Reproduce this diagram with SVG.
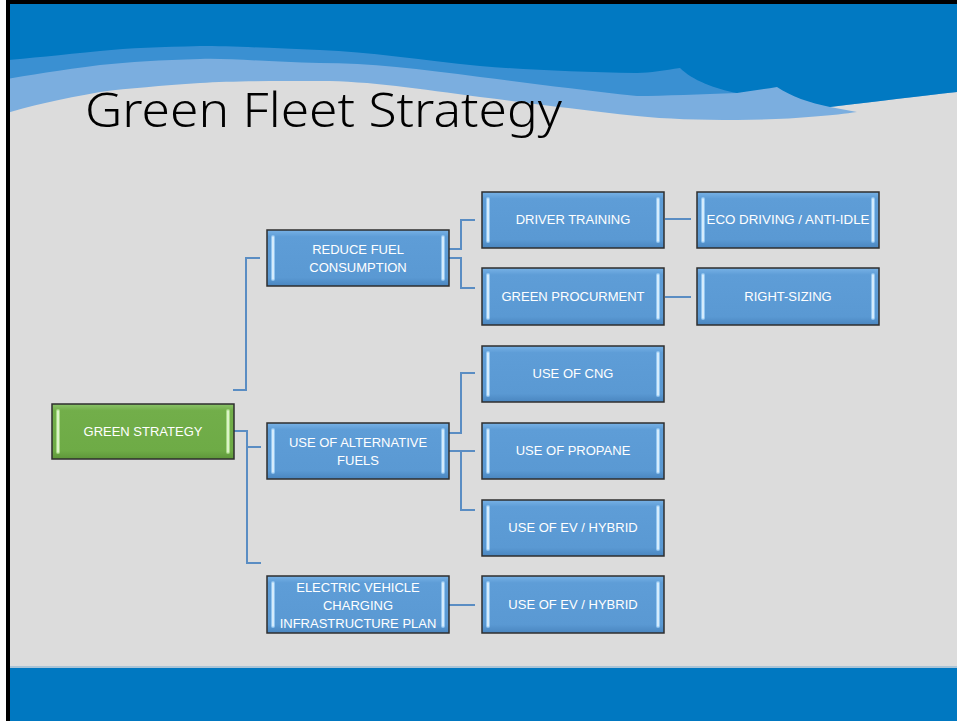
<svg xmlns="http://www.w3.org/2000/svg" width="957" height="721" viewBox="0 0 957 721">
<defs>
<linearGradient id="gBlue" x1="0" y1="0" x2="0" y2="1">
<stop offset="0" stop-color="#78B2E6"/>
<stop offset="0.12" stop-color="#5E9DD7"/>
<stop offset="0.85" stop-color="#5A99D3"/>
<stop offset="1" stop-color="#4A86C0"/>
</linearGradient>
<linearGradient id="gGreen" x1="0" y1="0" x2="0" y2="1">
<stop offset="0" stop-color="#8CC46A"/>
<stop offset="0.12" stop-color="#72AE4A"/>
<stop offset="0.85" stop-color="#6EAB46"/>
<stop offset="1" stop-color="#5E963A"/>
</linearGradient>
</defs>
<style>
.box{stroke:#2E2E2E;stroke-width:1.5}
.blue .box{fill:url(#gBlue)}
.green .box{fill:url(#gGreen)}
.hl1{stroke-width:4;stroke-linecap:round}
.hl2{stroke-width:1.6;stroke-linecap:round}
.blue .hl1{stroke:#93C6F0}
.blue .hl2{stroke:#E6F5FF}
.green .hl1{stroke:#A6D884}
.green .hl2{stroke:#E9FAD8}
.lbl{font-family:"Liberation Sans",Arial,sans-serif;font-size:13px;fill:#FFFFFF;text-anchor:middle}
.conn{fill:none;stroke:#5A8DC3;stroke-width:2}
</style>
<rect x="0" y="0" width="957" height="721" fill="#FFFFFF"/>
<rect x="10" y="0" width="947" height="721" fill="#DCDCDC"/>
<g id="header">
<path fill="#7BAEDF" d="M0,0 H957 V92 C920,96 880,101 830,107 L857,112 C830,116 780,120 737,120 C700,120 665,119 637,116 C580,110 530,103 480,97 C420,89 370,81 320,81 C270,81 230,81 200,83 C160,86 130,88 100,92 C60,99 30,106 0,115 Z"/>
<path fill="#3A90D2" d="M0,0 H737 V93 C700,94 665,96 637,96 C580,90 530,83 480,77 C420,69 370,63 320,63 C270,62 230,58 200,59 C160,60 130,62 100,65 C60,70 30,75 0,80 Z"/>
<path fill="#0179C2" d="M0,0 H957 V92 C920,96 880,101 830,107 C810,103 790,96 777,87 C765,89 750,91 737,93 C715,89 692,80 680,68 C665,70 650,73 637,73 C580,72 530,70 480,66 C420,60 370,52 320,50 C270,48 230,46 200,46 C160,47 130,48 100,51 C60,55 30,58 0,61 Z"/>
</g>
<rect x="10" y="666" width="947" height="2" fill="#A9C3D6"/>
<rect x="10" y="668" width="947" height="53" fill="#0078C1"/>
<rect x="0" y="0" width="6" height="721" fill="#FFFFFF"/>
<rect x="6" y="0" width="4" height="721" fill="#000000"/>
<rect x="6" y="0" width="951" height="4" fill="#000000"/>
<text x="85" y="127" font-family="'Noto Sans','Liberation Sans',sans-serif" font-weight="300" font-size="48" fill="#000000" textLength="477" lengthAdjust="spacingAndGlyphs">Green Fleet Strategy</text>
<g id="connectors">
<polyline class="conn" points="233,390 246,390 246,258 260,258"/>
<polyline class="conn" points="234,431 247,431 247,447 261,447"/>
<polyline class="conn" points="247,447 247,563 261,563"/>
<polyline class="conn" points="449,249 461,249 461,220 475,220"/>
<polyline class="conn" points="449,258 461,258 461,288 475,288"/>
<line class="conn" x1="665" y1="219" x2="691" y2="219"/>
<line class="conn" x1="665" y1="297" x2="691" y2="297"/>
<polyline class="conn" points="449,433 461,433 461,373 475,373"/>
<line class="conn" x1="449" y1="451" x2="475" y2="451"/>
<polyline class="conn" points="461,451 461,510 475,510"/>
<line class="conn" x1="449" y1="605" x2="475" y2="605"/>
</g>
<g id="n-green" class="node green">
<rect class="box" x="52" y="404" width="182" height="55"/>
<line class="hl1" x1="58" y1="411" x2="58" y2="452"/><line class="hl2" x1="58" y1="411" x2="58" y2="452"/>
<line class="hl1" x1="228" y1="411" x2="228" y2="452"/><line class="hl2" x1="228" y1="411" x2="228" y2="452"/>
<text class="lbl" x="143" y="436">GREEN STRATEGY</text>
</g>
<g id="n-reduce" class="node blue">
<rect class="box" x="267" y="230" width="182" height="56"/>
<line class="hl1" x1="273" y1="237" x2="273" y2="279"/><line class="hl2" x1="273" y1="237" x2="273" y2="279"/>
<line class="hl1" x1="443" y1="237" x2="443" y2="279"/><line class="hl2" x1="443" y1="237" x2="443" y2="279"/>
<text class="lbl" x="358" y="254">REDUCE FUEL</text>
<text class="lbl" x="358" y="272">CONSUMPTION</text>
</g>
<g id="n-alt" class="node blue">
<rect class="box" x="267" y="423" width="182" height="56"/>
<line class="hl1" x1="273" y1="430" x2="273" y2="472"/><line class="hl2" x1="273" y1="430" x2="273" y2="472"/>
<line class="hl1" x1="443" y1="430" x2="443" y2="472"/><line class="hl2" x1="443" y1="430" x2="443" y2="472"/>
<text class="lbl" x="358" y="447">USE OF ALTERNATIVE</text>
<text class="lbl" x="358" y="465">FUELS</text>
</g>
<g id="n-evplan" class="node blue">
<rect class="box" x="267" y="576" width="182" height="57"/>
<line class="hl1" x1="273" y1="583" x2="273" y2="626"/><line class="hl2" x1="273" y1="583" x2="273" y2="626"/>
<line class="hl1" x1="443" y1="583" x2="443" y2="626"/><line class="hl2" x1="443" y1="583" x2="443" y2="626"/>
<text class="lbl" x="358" y="592">ELECTRIC VEHICLE</text>
<text class="lbl" x="358" y="610">CHARGING</text>
<text class="lbl" x="358" y="628">INFRASTRUCTURE PLAN</text>
</g>
<g id="n-driver" class="node blue">
<rect class="box" x="482" y="192" width="182" height="56"/>
<line class="hl1" x1="488" y1="199" x2="488" y2="241"/><line class="hl2" x1="488" y1="199" x2="488" y2="241"/>
<line class="hl1" x1="658" y1="199" x2="658" y2="241"/><line class="hl2" x1="658" y1="199" x2="658" y2="241"/>
<text class="lbl" x="573" y="224">DRIVER TRAINING</text>
</g>
<g id="n-procure" class="node blue">
<rect class="box" x="482" y="268" width="182" height="57"/>
<line class="hl1" x1="488" y1="275" x2="488" y2="318"/><line class="hl2" x1="488" y1="275" x2="488" y2="318"/>
<line class="hl1" x1="658" y1="275" x2="658" y2="318"/><line class="hl2" x1="658" y1="275" x2="658" y2="318"/>
<text class="lbl" x="573" y="301">GREEN PROCURMENT</text>
</g>
<g id="n-cng" class="node blue">
<rect class="box" x="482" y="346" width="182" height="56"/>
<line class="hl1" x1="488" y1="353" x2="488" y2="395"/><line class="hl2" x1="488" y1="353" x2="488" y2="395"/>
<line class="hl1" x1="658" y1="353" x2="658" y2="395"/><line class="hl2" x1="658" y1="353" x2="658" y2="395"/>
<text class="lbl" x="573" y="378">USE OF CNG</text>
</g>
<g id="n-propane" class="node blue">
<rect class="box" x="482" y="423" width="182" height="56"/>
<line class="hl1" x1="488" y1="430" x2="488" y2="472"/><line class="hl2" x1="488" y1="430" x2="488" y2="472"/>
<line class="hl1" x1="658" y1="430" x2="658" y2="472"/><line class="hl2" x1="658" y1="430" x2="658" y2="472"/>
<text class="lbl" x="573" y="455">USE OF PROPANE</text>
</g>
<g id="n-ev1" class="node blue">
<rect class="box" x="482" y="500" width="182" height="56"/>
<line class="hl1" x1="488" y1="507" x2="488" y2="549"/><line class="hl2" x1="488" y1="507" x2="488" y2="549"/>
<line class="hl1" x1="658" y1="507" x2="658" y2="549"/><line class="hl2" x1="658" y1="507" x2="658" y2="549"/>
<text class="lbl" x="573" y="532">USE OF EV / HYBRID</text>
</g>
<g id="n-ev2" class="node blue">
<rect class="box" x="482" y="576" width="182" height="57"/>
<line class="hl1" x1="488" y1="583" x2="488" y2="626"/><line class="hl2" x1="488" y1="583" x2="488" y2="626"/>
<line class="hl1" x1="658" y1="583" x2="658" y2="626"/><line class="hl2" x1="658" y1="583" x2="658" y2="626"/>
<text class="lbl" x="573" y="609">USE OF EV / HYBRID</text>
</g>
<g id="n-eco" class="node blue">
<rect class="box" x="697" y="192" width="182" height="56"/>
<line class="hl1" x1="703" y1="199" x2="703" y2="241"/><line class="hl2" x1="703" y1="199" x2="703" y2="241"/>
<line class="hl1" x1="873" y1="199" x2="873" y2="241"/><line class="hl2" x1="873" y1="199" x2="873" y2="241"/>
<text class="lbl" x="788" y="224" textLength="163" lengthAdjust="spacingAndGlyphs">ECO DRIVING / ANTI-IDLE</text>
</g>
<g id="n-right" class="node blue">
<rect class="box" x="697" y="268" width="182" height="57"/>
<line class="hl1" x1="703" y1="275" x2="703" y2="318"/><line class="hl2" x1="703" y1="275" x2="703" y2="318"/>
<line class="hl1" x1="873" y1="275" x2="873" y2="318"/><line class="hl2" x1="873" y1="275" x2="873" y2="318"/>
<text class="lbl" x="788" y="301">RIGHT-SIZING</text>
</g>
</svg>
